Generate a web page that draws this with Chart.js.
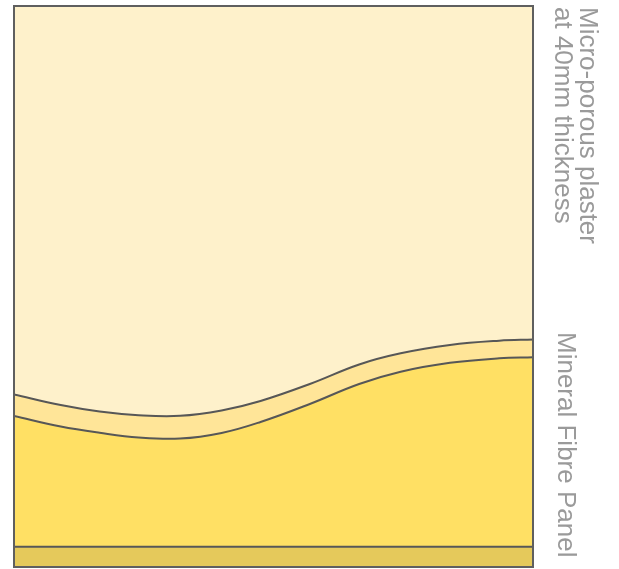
<!DOCTYPE html>
<html>
<head>
<meta charset="utf-8">
<script src="https://cdn.jsdelivr.net/npm/chart.js@4/dist/chart.umd.min.js"></script>
<style>
html,body{margin:0;padding:0;background:#fff;}
#wrap{width:619px;height:569px;}
</style>
</head>
<body>
<div id="wrap"><canvas id="c" width="619" height="569"></canvas></div>
<script>
// Horizontal position across the section (% of width)
const positions = [0, 9, 16.5, 24, 32, 40, 47.5, 57, 66.5, 74.5, 84, 93.5, 100];
// Height of the top of each layer (% of total height)
const plasterTop = [100, 100, 100, 100, 100, 100, 100, 100, 100, 100, 100, 100, 100];
const lightBandTop = [30.75, 28.88, 27.72, 27.06, 26.95, 27.90, 29.59, 32.62, 36.10, 38.09, 39.57, 40.34, 40.55];
const panelTop = [26.92, 25.04, 23.92, 23.08, 22.89, 23.89, 25.85, 29.06, 32.62, 34.81, 36.40, 37.20, 37.38];
const baseTop = [3.6, 3.6, 3.6, 3.6, 3.6, 3.6, 3.6, 3.6, 3.6, 3.6, 3.6, 3.6, 3.6];
const labelsTop = ["Micro-porous plaster", "at 40mm thickness"];
const labelBottom = "Mineral Fibre Panel";

function pts(arr){ return positions.map((x,i)=>({x:x, y:arr[i]})); }

const labelPlugin = {
  id:'labels',
  afterDraw(chart){
    const ctx = chart.ctx, a = chart.chartArea;
    ctx.save();
    ctx.strokeStyle = '#5f5f5f';
    ctx.lineWidth = 2;
    ctx.strokeRect(a.left, a.top, a.right - a.left, a.bottom - a.top);
    ctx.restore();

    ctx.save();
    ctx.fillStyle = '#9a9a9a';
    ctx.font = '26px "Liberation Sans", Arial, sans-serif';
    ctx.textBaseline = 'alphabetic';
    ctx.textAlign = 'left';
    // top label (two lines, rotated clockwise)
    const xs = [a.right + 47, a.right + 22];
    labelsTop.forEach((t,i)=>{
      ctx.save();
      ctx.translate(xs[i], a.top + 1);
      ctx.rotate(Math.PI/2);
      ctx.fillText(t, 0, 0);
      ctx.restore();
    });
    // bottom label
    ctx.save();
    ctx.translate(a.right + 25, a.top + 326);
    ctx.rotate(Math.PI/2);
    ctx.fillText(labelBottom, 0, 0);
    ctx.restore();
    ctx.restore();
  }
};

const lineCol = '#575757';
new Chart(document.getElementById('c'), {
  type:'line',
  data:{
    datasets:[
      {data:pts(baseTop), fill:'origin', backgroundColor:'#E5C95B', borderColor:lineCol, borderWidth:2, pointRadius:0, tension:0},
      {data:pts(panelTop), fill:'-1', backgroundColor:'#FFE064', borderColor:lineCol, borderWidth:2, pointRadius:0},
      {data:pts(lightBandTop), fill:'-1', backgroundColor:'#FFE598', borderColor:lineCol, borderWidth:2, pointRadius:0},
      {data:pts(plasterTop), fill:'-1', backgroundColor:'#FEF1CB', borderColor:'rgba(0,0,0,0)', borderWidth:0, pointRadius:0, tension:0}
    ]
  },
  options:{
    responsive:false,
    animation:false,
    devicePixelRatio:1,
    layout:{padding:{left:14, right:86, top:6, bottom:2}},
    plugins:{legend:{display:false}, tooltip:{enabled:false}},
    scales:{
      x:{type:'linear', min:0, max:100, display:false},
      y:{min:0, max:100, display:false}
    },
    elements:{line:{tension:0.4}}
  },
  plugins:[labelPlugin]
});
</script>
</body>
</html>
